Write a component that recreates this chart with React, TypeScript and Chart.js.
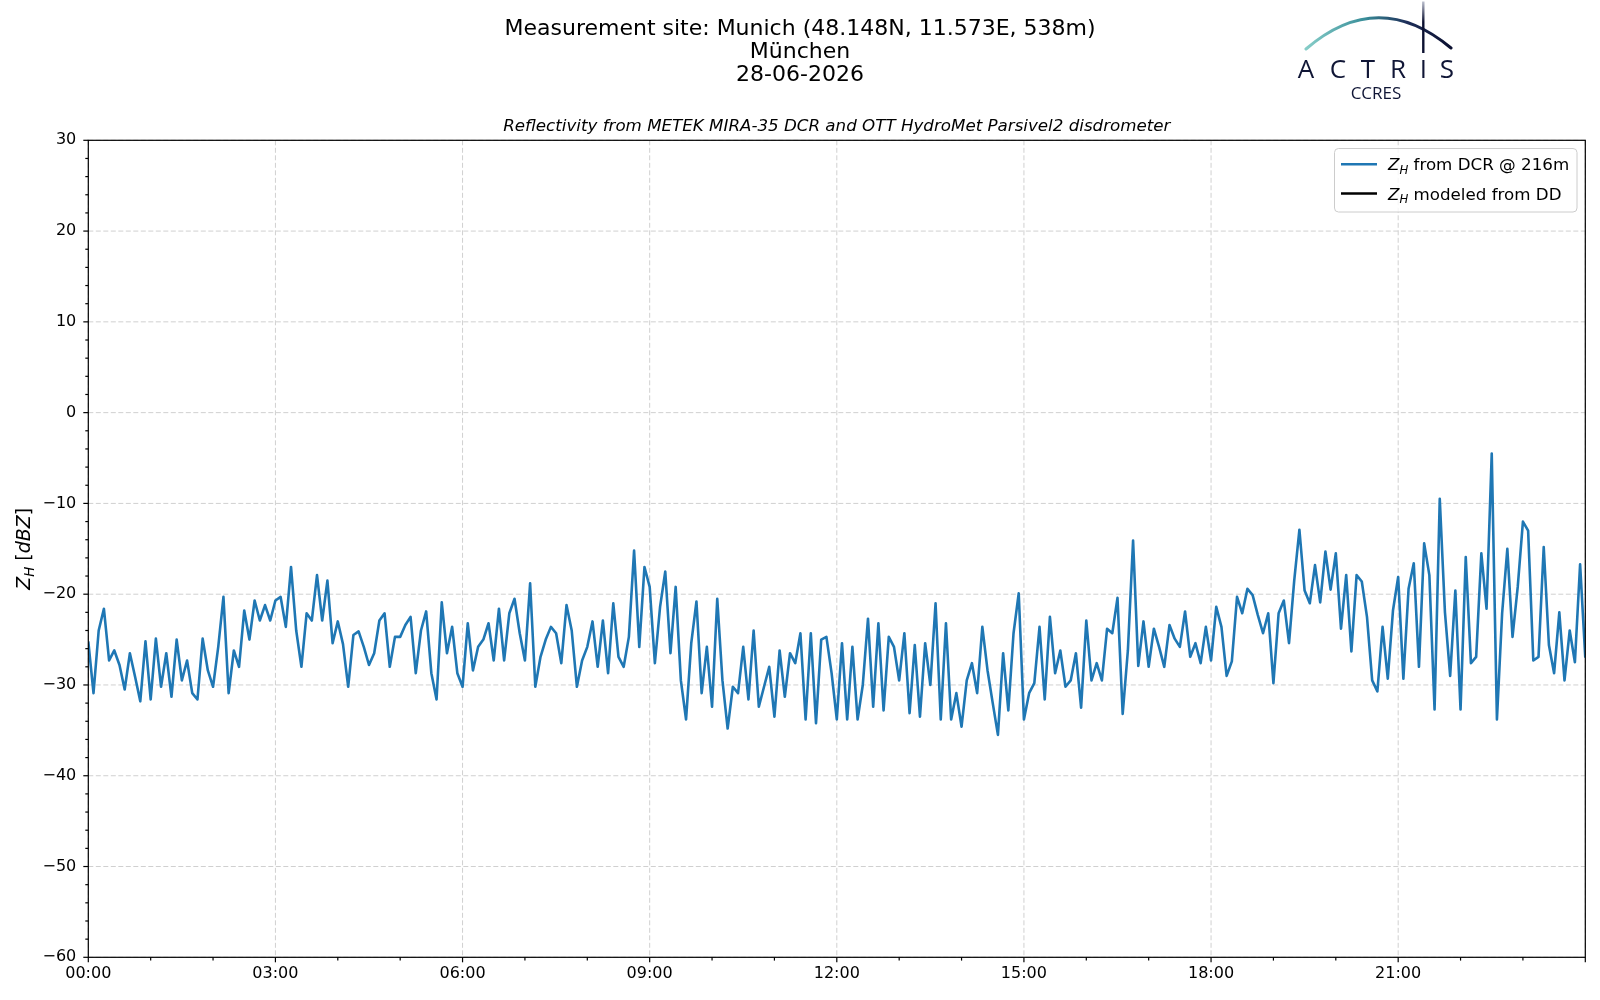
import { useEffect, useRef } from 'react';
import { Chart, registerables } from 'chart.js';

Chart.register(...registerables);

// radar reflectivity at 216 m, one value every 5 minutes (dBZ)
const STEP_MIN = 5;

const zhNight = [
  -25.2, -30.9, -24.0, -21.6, -27.3, -26.2, -27.8, -30.5, -26.5, -29.1, -31.8, -25.2,
  -31.6, -24.9, -30.2, -26.5, -31.3, -25.0, -29.5, -27.3, -30.9, -31.6, -24.9, -28.4,
  -30.2, -25.8, -20.3, -30.9, -26.2, -28.0, -21.8, -25.0, -20.7, -22.9, -21.2, -22.9,
  -20.7, -20.3, -23.6, -17.0, -24.0, -28.0, -22.1, -22.9, -17.9, -22.9, -18.5, -25.4,
  -23.0, -25.5, -30.2, -24.5, -24.1, -25.8, -27.8, -26.5, -22.9, -22.1, -28.0, -24.7,
  -24.7, -23.4, -22.5, -28.7, -24.0, -21.9, -28.7, -31.6, -20.9, -26.5, -23.6, -28.7,
];

const zhMorning = [
  -30.2, -23.2, -28.4, -25.8, -25.0, -23.2, -27.3, -21.6, -27.3, -22.1, -20.5, -24.3,
  -27.3, -18.8, -30.2, -26.9, -25.0, -23.6, -24.3, -27.6, -21.2, -24.0, -30.2, -27.3,
  -25.8, -23.0, -28.0, -22.9, -28.7, -21.0, -26.9, -28.0, -24.7, -15.2, -25.8, -17.0,
  -19.2, -27.6, -21.4, -17.5, -26.5, -19.2, -29.5, -33.8, -25.4, -20.8, -30.9, -25.8,
  -32.4, -20.5, -29.5, -34.8, -30.2, -30.9, -25.8, -31.6, -24.0, -32.4, -30.2, -28.0,
  -33.5, -26.2, -31.3, -26.5, -27.6, -24.3, -33.8, -24.3, -34.2, -25.0, -24.7, -28.7,
];

const zhAfternoon = [
  -33.8, -25.4, -33.8, -25.8, -33.8, -30.0, -22.7, -32.4, -23.2, -32.8, -24.7, -25.8,
  -29.5, -24.3, -33.1, -25.6, -33.5, -25.4, -30.0, -21.0, -33.8, -23.2, -33.8, -30.9,
  -34.6, -29.5, -27.6, -30.9, -23.6, -28.4, -32.0, -35.5, -26.5, -32.8, -24.3, -19.9,
  -33.8, -30.9, -29.8, -23.6, -31.6, -22.5, -28.7, -26.2, -30.2, -29.5, -26.5, -32.5,
  -22.9, -29.5, -27.6, -29.5, -23.8, -24.3, -20.4, -33.2, -26.2, -14.1, -27.9, -23.0,
  -28.0, -23.8, -25.8, -28.0, -23.4, -24.9, -25.8, -21.9, -26.9, -25.4, -27.6, -23.6,
];

const zhEvening = [
  -27.3, -21.4, -23.6, -29.0, -27.4, -20.3, -22.1, -19.4, -20.1, -22.3, -24.3, -22.1,
  -29.8, -22.1, -20.7, -25.4, -18.5, -12.9, -19.6, -21.0, -16.8, -20.9, -15.3, -19.5,
  -15.5, -23.8, -17.9, -26.3, -17.9, -18.6, -22.5, -29.5, -30.7, -23.6, -29.3, -21.8,
  -18.1, -29.3, -19.4, -16.6, -28.0, -14.4, -17.9, -32.7, -9.5, -22.0, -29.0, -19.6,
  -32.7, -15.9, -27.6, -26.9, -15.5, -21.6, -4.5, -33.8, -22.1, -15.0, -24.7, -19.2,
  -12.0, -13.0, -27.3, -26.9, -14.8, -25.6, -28.7, -22.0, -29.5, -24.0, -27.5, -16.7,
  -27.0,
];

// no disdrometer data for this day
const zhModeled: { x: number; y: number }[] = [];

const zhRadar = [...zhNight, ...zhMorning, ...zhAfternoon, ...zhEvening];
const timesMin = zhRadar.map((_, i) => i * STEP_MIN);

const xTickLabels = ['00:00', '03:00', '06:00', '09:00', '12:00', '15:00', '18:00', '21:00'];

const titleLines = [
  'Measurement site: Munich (48.148N, 11.573E, 538m)',
  'München',
  '28-06-2026',
];
const subtitle = 'Reflectivity from METEK MIRA-35 DCR and OTT HydroMet Parsivel2 disdrometer';

const legendItems = [
  { color: '#1f77b4', text: ' from DCR @ 216m' },
  { color: '#000000', text: ' modeled from DD' },
];

const FONT = '"DejaVu Sans", sans-serif';

type Part = { t: string; it?: boolean; sub?: boolean };

function partsWidth(ctx: CanvasRenderingContext2D, parts: Part[], fs: number) {
  let w = 0;
  for (const p of parts) {
    const size = p.sub ? fs * 0.7 : fs;
    ctx.font = `${p.it ? 'italic ' : ''}${size}px ${FONT}`;
    w += ctx.measureText(p.t).width;
  }
  return w;
}

function drawParts(ctx: CanvasRenderingContext2D, parts: Part[], x: number, baseline: number, fs: number) {
  let cx = x;
  ctx.textAlign = 'left';
  ctx.textBaseline = 'alphabetic';
  for (const p of parts) {
    const size = p.sub ? fs * 0.7 : fs;
    ctx.font = `${p.it ? 'italic ' : ''}${size}px ${FONT}`;
    ctx.fillText(p.t, cx, p.sub ? baseline + fs * 0.22 : baseline);
    cx += ctx.measureText(p.t).width;
  }
}

function strokeLine(ctx: CanvasRenderingContext2D, x1: number, y1: number, x2: number, y2: number) {
  ctx.beginPath();
  ctx.moveTo(x1, y1);
  ctx.lineTo(x2, y2);
  ctx.stroke();
}

const decorPlugin = {
  id: 'decor',
  beforeDatasetsDraw(chart: Chart) {
    const { ctx, chartArea: a } = chart;
    const x = chart.scales.x;
    const y = chart.scales.y;
    ctx.save();
    ctx.strokeStyle = '#d0d0d0';
    ctx.lineWidth = 1;
    ctx.setLineDash([5, 2.5]);
    for (let v = -60; v <= 30; v += 10) {
      const py = y.getPixelForValue(v);
      strokeLine(ctx, a.left, py, a.right, py);
    }
    for (let m = 0; m <= 1440; m += 180) {
      const px = x.getPixelForValue(m);
      strokeLine(ctx, px, a.top, px, a.bottom);
    }
    ctx.restore();
  },
  afterDatasetsDraw(chart: Chart) {
    const { ctx, chartArea: a } = chart;
    const x = chart.scales.x;
    const y = chart.scales.y;
    ctx.save();

    // spines and ticks
    ctx.strokeStyle = '#000';
    ctx.lineWidth = 1.2;
    ctx.strokeRect(a.left, a.top, a.right - a.left, a.bottom - a.top);
    for (let v = -60; v <= 30; v += 2) {
      const py = y.getPixelForValue(v);
      const len = v % 10 === 0 ? 5 : 3;
      strokeLine(ctx, a.left - len, py, a.left, py);
    }
    for (let m = 0; m <= 1440; m += 60) {
      const px = x.getPixelForValue(m);
      const len = m % 180 === 0 ? 5 : 3.3;
      strokeLine(ctx, px, a.bottom, px, a.bottom + len);
    }

    // y axis label
    ctx.fillStyle = '#000';
    const yParts: Part[] = [
      { t: 'Z', it: true },
      { t: 'H', it: true, sub: true },
      { t: ' [' },
      { t: 'dBZ', it: true },
      { t: ']' },
    ];
    const yfs = 19;
    ctx.save();
    ctx.translate(23, (a.top + a.bottom) / 2);
    ctx.rotate(-Math.PI / 2);
    const yw = partsWidth(ctx, yParts, yfs);
    drawParts(ctx, yParts, -yw / 2, yfs * 0.36, yfs);
    ctx.restore();

    // legend
    const lx = 1334.5;
    const ly = 148.5;
    const lw = 1577 - lx;
    const lh = 212 - ly;
    ctx.beginPath();
    ctx.roundRect(lx, ly, lw, lh, 4);
    ctx.fillStyle = 'rgba(255,255,255,0.8)';
    ctx.fill();
    ctx.strokeStyle = '#cccccc';
    ctx.lineWidth = 1;
    ctx.stroke();
    const lfs = 16.7;
    legendItems.forEach((item, i) => {
      const rowY = 164.3 + i * 29.3;
      ctx.strokeStyle = item.color;
      ctx.lineWidth = 2.5;
      strokeLine(ctx, 1341, rowY, 1377, rowY);
      ctx.fillStyle = '#000';
      drawParts(
        ctx,
        [{ t: 'Z', it: true }, { t: 'H', it: true, sub: true }, { t: item.text }],
        1388,
        rowY + lfs * 0.36,
        lfs,
      );
    });

    // titles
    ctx.fillStyle = '#000';
    ctx.textAlign = 'center';
    ctx.textBaseline = 'middle';
    ctx.font = `22px ${FONT}`;
    titleLines.forEach((line, i) => ctx.fillText(line, 800, 29.5 + i * 23));
    ctx.font = `italic 16.7px ${FONT}`;
    ctx.fillText(subtitle, (a.left + a.right) / 2, 126.5);

    // ACTRIS CCRES logo
    const g = ctx.createLinearGradient(1306, 0, 1451, 0);
    g.addColorStop(0, '#86cdc8');
    g.addColorStop(0.4, '#3a8f9a');
    g.addColorStop(0.7, '#1d2d58');
    g.addColorStop(1, '#0b1030');
    ctx.strokeStyle = g;
    ctx.lineWidth = 3;
    ctx.lineCap = 'round';
    ctx.beginPath();
    ctx.moveTo(1306, 49);
    ctx.quadraticCurveTo(1378, -13, 1451, 48);
    ctx.stroke();
    const gv = ctx.createLinearGradient(0, 1, 0, 22);
    gv.addColorStop(0, '#c0c4d2');
    gv.addColorStop(1, '#0b1030');
    ctx.strokeStyle = gv;
    ctx.lineWidth = 2.4;
    ctx.lineCap = 'butt';
    strokeLine(ctx, 1423.3, 1.5, 1423.3, 53);
    ctx.fillStyle = '#101636';
    ctx.textBaseline = 'alphabetic';
    ctx.font = '500 26px "Open Sans", sans-serif';
    const letters = ['A', 'C', 'T', 'R', 'I', 'S'];
    const letterX = [1306, 1338, 1368, 1398, 1423.5, 1447];
    letters.forEach((c, i) => ctx.fillText(c, letterX[i], 78));
    ctx.font = '17px "Open Sans", sans-serif';
    ctx.fillText('CCRES', 1376, 98.5);

    ctx.restore();
  },
};

export default function App() {
  const canvasRef = useRef<HTMLCanvasElement>(null);
  const chartRef = useRef<Chart | null>(null);

  useEffect(() => {
    if (!canvasRef.current) return;
    chartRef.current?.destroy();
    const tickFont = { family: FONT, size: 16 };

    chartRef.current = new Chart(canvasRef.current, {
      type: 'line',
      data: {
        datasets: [
          {
            label: 'Z_H from DCR @ 216m',
            data: timesMin.map((t, i) => ({ x: t, y: zhRadar[i] })),
            borderColor: '#1f77b4',
            borderWidth: 2.6,
            pointRadius: 0,
            tension: 0,
            borderJoinStyle: 'round',
          },
          {
            label: 'Z_H modeled from DD',
            data: zhModeled,
            borderColor: '#000000',
            borderWidth: 2.2,
            pointRadius: 0,
          },
        ],
      },
      options: {
        animation: false,
        responsive: false,
        devicePixelRatio: 1,
        layout: { padding: { top: 140.3, right: 14.7, left: 0, bottom: 0 } },
        plugins: {
          legend: { display: false },
          title: { display: false },
          tooltip: { enabled: false },
        },
        scales: {
          x: {
            type: 'linear',
            min: 0,
            max: 1440,
            afterFit: (s) => {
              s.height = 42.7;
            },
            grid: { display: false, drawTicks: false },
            border: { display: false },
            ticks: {
              stepSize: 180,
              autoSkip: false,
              maxRotation: 0,
              padding: 7,
              color: '#000',
              font: tickFont,
              callback: (v) => xTickLabels[Number(v) / 180] ?? '',
            },
          },
          y: {
            min: -60,
            max: 30,
            afterFit: (s) => {
              s.width = 88.3;
            },
            grid: { display: false, drawTicks: false },
            border: { display: false },
            ticks: {
              stepSize: 10,
              padding: 12,
              color: '#000',
              font: tickFont,
              callback: (v) => {
                const n = Number(v);
                return n < 0 ? '\u2212' + Math.abs(n) : String(n);
              },
            },
          },
        },
      },
      plugins: [decorPlugin],
    });

    return () => {
      chartRef.current?.destroy();
      chartRef.current = null;
    };
  }, []);

  return (
    <div style={{ position: 'fixed', left: 0, top: 0, width: 1600, height: 1000, background: '#fff' }}>
      <canvas ref={canvasRef} width={1600} height={1000} style={{ display: 'block' }} />
    </div>
  );
}
